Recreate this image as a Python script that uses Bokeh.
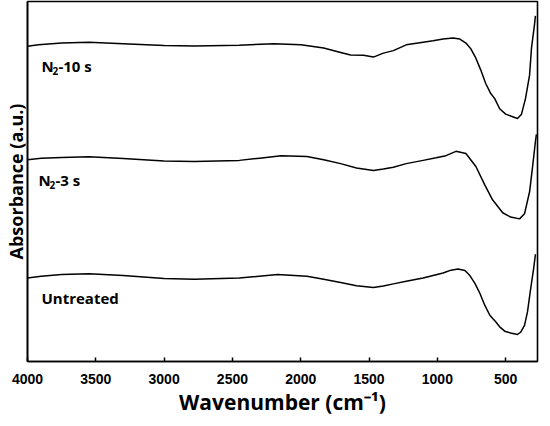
from bokeh.plotting import figure
from bokeh.models import Range1d, FixedTicker, Label
from bokeh.embed import file_html
from bokeh.resources import INLINE

# ---- data (wavenumber in cm^-1, absorbance in a.u., stacked as plotted) ----
wn_untreated = [4000, 3900, 3750, 3550, 3300, 3000, 2780, 2450, 2170, 1955, 1832, 1708, 1592,
                1468, 1395, 1322, 1228, 1104, 1031, 958, 900, 849, 798, 762, 726, 689, 653,
                616, 595, 573, 544, 507, 464, 413, 391, 362, 340, 318, 296, 282]
abs_untreated = [23.1, 23.6, 24.1, 24.3, 23.8, 23.0, 22.8, 23.1, 24.1, 23.6, 22.8, 21.9, 21.0,
                 20.5, 20.9, 21.5, 22.2, 23.1, 23.8, 24.5, 25.3, 25.6, 25.2, 23.8, 21.7, 18.9, 15.6,
                 12.8, 11.9, 11.0, 9.6, 8.4, 7.9, 7.5, 8.1, 10.0, 13.8, 19.9, 25.5, 29.7]

wn_n2_3s = [4000, 3900, 3750, 3550, 3300, 3000, 2780, 2450, 2300, 2144, 1955, 1832, 1708,
            1592, 1468, 1395, 1322, 1228, 1104, 1009, 937, 864, 791, 718, 653, 595, 573,
            522, 464, 398, 362, 325, 304, 282, 275]
abs_n2_3s = [55.9, 56.3, 56.5, 56.7, 56.2, 55.5, 55.4, 55.7, 56.3, 57.0, 56.8, 55.9, 54.8,
             53.6, 52.9, 53.3, 53.8, 54.8, 55.7, 56.4, 57.0, 58.2, 57.6, 54.0, 48.9, 44.7, 43.7,
             41.2, 40.0, 39.5, 40.9, 47.0, 53.6, 61.0, 62.9]

wn_n2_10s = [4000, 3920, 3750, 3550, 3300, 3000, 2780, 2450, 2195, 1999, 1832, 1708, 1635,
             1541, 1468, 1395, 1322, 1228, 1104, 1031, 958, 886, 835, 791, 755, 718, 682,
             646, 609, 580, 544, 500, 449, 413, 384, 355, 325, 311, 289, 282]
abs_n2_10s = [87.3, 87.7, 88.2, 88.4, 88.0, 87.5, 87.4, 87.6, 88.0, 87.7, 86.8, 85.6, 84.9,
              84.8, 84.3, 85.4, 86.1, 87.7, 88.4, 88.8, 89.3, 89.6, 89.3, 88.2, 86.6, 84.0, 80.7,
              77.0, 74.2, 72.8, 70.0, 68.5, 67.8, 67.3, 68.5, 72.8, 79.3, 86.8, 93.3, 95.7]

# label parts: main text, subscript, remainder
label_main = ["N", "N", "Untreated"]
label_sub = ["2", "2", ""]
label_rest = ["-10 s", "-3 s", ""]
label_x = [3898, 3920, 3898]
label_y = [81.7, 50.3, 17.7]

x_ticks = [4000, 3500, 3000, 2500, 2000, 1500, 1000, 500]

p = figure(width=540, height=418, output_backend="svg", toolbar_location=None,
           x_range=Range1d(4000, 267), y_range=Range1d(0, 99.7),
           min_border_left=24, min_border_right=3, min_border_top=1, min_border_bottom=0)

p.grid.visible = False
p.outline_line_color = "black"
p.outline_line_width = 1.6
p.outline_line_alpha = 1.0

for wn, ab in [(wn_untreated, abs_untreated), (wn_n2_3s, abs_n2_3s), (wn_n2_10s, abs_n2_10s)]:
    p.line(wn, ab, line_color="black", line_width=1.5, line_join="round")

font_kw = dict(text_font="Open Sans", text_font_style="bold", text_align="left",
               text_color="black")
for m, s, r, lx, ly in zip(label_main, label_sub, label_rest, label_x, label_y):
    p.add_layout(Label(x=lx, y=ly, text=m, text_font_size="15px",
                       text_baseline="middle", **font_kw))
    if s:
        p.add_layout(Label(x=lx, y=ly, x_offset=11, y_offset=-5, text=s,
                           text_font_size="10px", text_baseline="middle", **font_kw))
        p.add_layout(Label(x=lx, y=ly, x_offset=17, text=r, text_font_size="15px",
                           text_baseline="middle", **font_kw))

xa = p.xaxis[0]
xa.ticker = FixedTicker(ticks=x_ticks)
xa.minor_tick_line_color = None
xa.major_tick_in = 4
xa.major_tick_out = 0
xa.major_tick_line_width = 1.5
xa.major_tick_line_color = "black"
xa.axis_line_width = 1.6
xa.axis_line_color = "black"
xa.major_label_text_font = "Liberation Sans"
xa.major_label_text_font_style = "bold"
xa.major_label_text_font_size = "14px"
xa.major_label_text_color = "black"
xa.major_label_standoff = 12
xa.axis_label = "Wavenumber (cm\u207b\u00b9)"
xa.axis_label_text_font = "Open Sans"
xa.axis_label_text_font_style = "bold"
xa.axis_label_text_font_size = "21px"
xa.axis_label_text_color = "black"
xa.axis_label_standoff = 1

ya = p.yaxis[0]
ya.ticker = FixedTicker(ticks=[])
ya.minor_tick_line_color = None
ya.major_tick_in = 0
ya.major_tick_out = 0
ya.major_label_standoff = 0
ya.axis_line_width = 1.6
ya.axis_line_color = "black"
ya.axis_label = "Absorbance (a.u.)"
ya.axis_label_text_font = "Open Sans"
ya.axis_label_text_font_style = "bold"
ya.axis_label_text_font_size = "18px"
ya.axis_label_text_color = "black"
ya.axis_label_standoff = 0

open("out.html", "w").write(file_html(p, INLINE))
